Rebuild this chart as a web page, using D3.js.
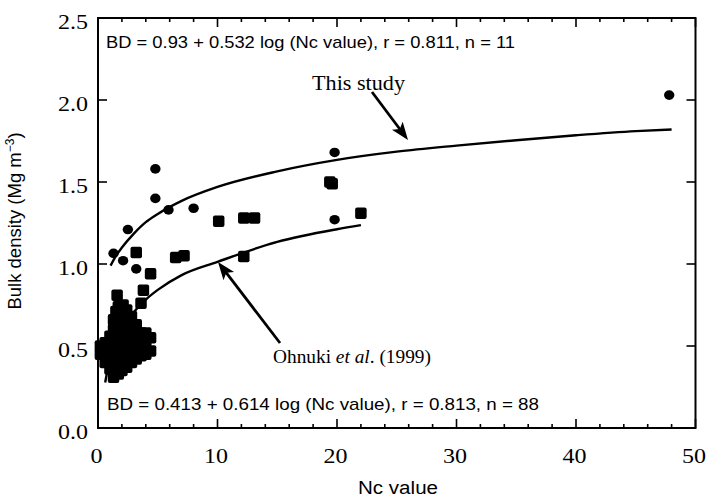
<!DOCTYPE html>
<html>
<head>
<meta charset="utf-8">
<script src="https://cdn.jsdelivr.net/npm/d3@7"></script>
<style>
  body { margin: 0; background: #fff; }
  svg { display: block; }
</style>
</head>
<body>
<svg width="710" height="498"></svg>
<script>
// punti "This study" (cerchi, n = 11)
const circleNc = [1.3, 2.1, 2.5, 3.2, 4.8, 4.8, 5.9, 8.0, 19.8, 19.8, 47.8];
const circleBD = [1.065, 1.02, 1.21, 0.97, 1.58, 1.40, 1.33, 1.34, 1.68, 1.27, 2.03];

// punti Ohnuki et al. (quadrati, n = 88)
const squareNc = [
    3.2, 6.5, 7.2, 4.4, 10.1, 12.2, 13.1, 12.2, 19.4, 19.6, 22.0, 1.6, 2.1, 3.8, 3.6,
    0.2, 0.2,
    0.6, 0.6, 0.6,
    1.0, 1.0, 1.0, 1.0,
    1.3, 1.3, 1.3, 1.3, 1.3, 1.3,
    1.7, 1.7, 1.7, 1.7, 1.7, 1.7, 1.7,
    2.0, 2.0, 2.0, 2.0, 2.0, 2.0,
    2.4, 2.4, 2.4, 2.4, 2.4, 2.4,
    2.8, 2.8, 2.8, 2.8, 2.8,
    3.2, 3.2, 3.2, 3.2,
    3.6, 3.6, 3.6,
    4.0, 4.0, 4.0,
    4.4, 4.4,
    1.5, 1.5, 1.5, 1.5, 1.5, 1.5,
    2.2, 2.2, 2.2, 2.2, 2.2,
    2.6, 2.6, 2.6, 2.6,
    3.0, 3.0, 3.0,
    0.8, 0.8,
    1.2, 1.2
];
const squareBD = [
    1.07, 1.04, 1.05, 0.94, 1.26, 1.28, 1.28, 1.045, 1.50, 1.49, 1.31, 0.81, 0.75, 0.84, 0.76,
    0.45, 0.50,
    0.40, 0.47, 0.52,
    0.36, 0.44, 0.50, 0.56,
    0.31, 0.38, 0.46, 0.53, 0.60, 0.66,
    0.33, 0.40, 0.48, 0.55, 0.62, 0.69, 0.74,
    0.35, 0.42, 0.50, 0.57, 0.64, 0.71,
    0.37, 0.45, 0.52, 0.59, 0.66, 0.72,
    0.40, 0.47, 0.54, 0.61, 0.68,
    0.42, 0.49, 0.56, 0.63,
    0.44, 0.51, 0.58,
    0.45, 0.52, 0.58,
    0.47, 0.55,
    0.35, 0.43, 0.51, 0.58, 0.65, 0.71,
    0.39, 0.47, 0.54, 0.61, 0.68,
    0.43, 0.50, 0.57, 0.63,
    0.45, 0.52, 0.59,
    0.42, 0.48,
    0.41, 0.48
];

// curve di regressione
const studyCurveNc = [1.05, 1.5, 2, 3, 4, 5, 7, 10, 15, 20, 25, 30, 35, 40, 45, 48];
const studyCurveBD = [0.99, 1.05, 1.10, 1.185, 1.255, 1.305, 1.385, 1.47, 1.565, 1.635, 1.685, 1.722, 1.755, 1.785, 1.81, 1.82];
const ohnukiCurveNc = [0.6, 0.8, 1, 1.5, 2, 3, 4, 5, 7, 10, 15, 20, 22];
const ohnukiCurveBD = [0.277, 0.354, 0.413, 0.521, 0.598, 0.706, 0.783, 0.842, 0.932, 1.013, 1.135, 1.212, 1.237];

// tick
const xMajorTicks = [0, 10, 20, 30, 40, 50];
const xMinorTicks = [2, 4, 6, 8, 12, 14, 16, 18, 22, 24, 26, 28, 32, 34, 36, 38, 42, 44, 46, 48];
const yMajorTicks = [0, 0.5, 1.0, 1.5, 2.0, 2.5];

const eqStudy = "BD = 0.93 + 0.532 log (Nc value), r = 0.811, n = 11";
const eqOhnuki = "BD = 0.413 + 0.614 log (Nc value), r = 0.813, n = 88";

// area del grafico
const plotLeft = 98, plotRight = 695.5, plotTop = 18, plotBottom = 428;

const x = d3.scaleLinear().domain([0, 50]).range([plotLeft, plotRight]);
const y = d3.scaleLinear().domain([0, 2.5]).range([plotBottom, plotTop]);

const svg = d3.select("svg");
const serif = "'Liberation Serif', 'Times New Roman', serif";
const sans = "'Liberation Sans', Arial, sans-serif";

// tick interni su tutti i lati
const tickG = svg.append("g").attr("stroke", "#000").attr("stroke-width", 1.6);
xMajorTicks.forEach(t => {
    tickG.append("line").attr("x1", x(t)).attr("x2", x(t)).attr("y1", plotBottom).attr("y2", plotBottom - 9);
    tickG.append("line").attr("x1", x(t)).attr("x2", x(t)).attr("y1", plotTop).attr("y2", plotTop + 9);
});
xMinorTicks.forEach(t => {
    tickG.append("line").attr("x1", x(t)).attr("x2", x(t)).attr("y1", plotBottom).attr("y2", plotBottom - 4);
    tickG.append("line").attr("x1", x(t)).attr("x2", x(t)).attr("y1", plotTop).attr("y2", plotTop + 4);
});
yMajorTicks.forEach(t => {
    tickG.append("line").attr("x1", plotLeft).attr("x2", plotLeft + 9).attr("y1", y(t)).attr("y2", y(t));
    tickG.append("line").attr("x1", plotRight).attr("x2", plotRight - 9).attr("y1", y(t)).attr("y2", y(t));
});

// cornice
svg.append("rect")
    .attr("x", plotLeft).attr("y", plotTop)
    .attr("width", plotRight - plotLeft).attr("height", plotBottom - plotTop)
    .attr("fill", "none").attr("stroke", "#000").attr("stroke-width", 2);

// etichette tick (il font originale e' un po' piu' largo)
const digitW = 12;
svg.append("g").selectAll("text")
    .data(xMajorTicks)
    .join("text")
    .attr("x", d => x(d) - 1.5 - String(d).length * digitW / 2)
    .attr("y", 463)
    .attr("textLength", d => String(d).length * digitW)
    .attr("lengthAdjust", "spacingAndGlyphs")
    .style("font-family", serif)
    .style("font-size", "21px")
    .text(d => d);

svg.append("g").selectAll("text")
    .data(yMajorTicks)
    .join("text")
    .attr("x", 58)
    .attr("y", d => y(d) + 11)
    .attr("textLength", 30)
    .attr("lengthAdjust", "spacingAndGlyphs")
    .style("font-family", serif)
    .style("font-size", "21px")
    .text(d => d.toFixed(1));

// titoli assi
svg.append("text")
    .attr("x", 358)
    .attr("y", 494)
    .attr("textLength", 80)
    .attr("lengthAdjust", "spacingAndGlyphs")
    .style("font-family", sans)
    .style("font-size", "18px")
    .text("Nc value");

const yTitle = svg.append("text")
    .attr("transform", `translate(20.5,221) rotate(-90)`)
    .attr("text-anchor", "middle")
    .style("font-family", sans)
    .style("font-size", "18.5px");
yTitle.append("tspan").text("Bulk density (Mg m");
yTitle.append("tspan").attr("dy", -7).style("font-size", "12px").text("−3");
yTitle.append("tspan").attr("dy", 7).text(")");

// curve
const line = d3.line().x(d => x(d[0])).y(d => y(d[1])).curve(d3.curveMonotoneX);

svg.append("path")
    .datum(studyCurveNc.map((v, i) => [v, studyCurveBD[i]]))
    .attr("d", line)
    .attr("fill", "none").attr("stroke", "#000").attr("stroke-width", 2.4);

svg.append("path")
    .datum(ohnukiCurveNc.map((v, i) => [v, ohnukiCurveBD[i]]))
    .attr("d", line)
    .attr("fill", "none").attr("stroke", "#000").attr("stroke-width", 2.4);

// quadrati
const sq = 11.5;
svg.append("g").selectAll("rect")
    .data(squareNc.map((v, i) => [v, squareBD[i]]))
    .join("rect")
    .attr("x", d => x(d[0]) - sq / 2)
    .attr("y", d => y(d[1]) - sq / 2)
    .attr("width", sq).attr("height", sq)
    .attr("rx", 2)
    .attr("fill", "#000");

// cerchi
svg.append("g").selectAll("ellipse")
    .data(circleNc.map((v, i) => [v, circleBD[i]]))
    .join("ellipse")
    .attr("cx", d => x(d[0]))
    .attr("cy", d => y(d[1]))
    .attr("rx", 5.2).attr("ry", 4.8)
    .attr("fill", "#000");

// equazioni
svg.append("text")
    .attr("x", 106).attr("y", 48)
    .attr("textLength", 409)
    .attr("lengthAdjust", "spacingAndGlyphs")
    .style("font-family", sans).style("font-size", "17px")
    .text(eqStudy);

svg.append("text")
    .attr("x", 107).attr("y", 410)
    .attr("textLength", 432)
    .attr("lengthAdjust", "spacingAndGlyphs")
    .style("font-family", sans).style("font-size", "17px")
    .text(eqOhnuki);

// etichette con freccia
svg.append("text")
    .attr("x", 312).attr("y", 90)
    .attr("textLength", 93)
    .attr("lengthAdjust", "spacingAndGlyphs")
    .style("font-family", serif).style("font-size", "21px")
    .text("This study");

const ohLabel = svg.append("text")
    .attr("x", 273).attr("y", 363)
    .attr("textLength", 158)
    .attr("lengthAdjust", "spacingAndGlyphs")
    .style("font-family", serif).style("font-size", "19px");
ohLabel.append("tspan").text("Ohnuki ");
ohLabel.append("tspan").style("font-style", "italic").text("et al");
ohLabel.append("tspan").text(". (1999)");

function arrow(x1, y1, x2, y2) {
    const a = Math.atan2(y2 - y1, x2 - x1);
    const len = 19, w = 0.36;
    svg.append("line")
        .attr("x1", x1).attr("y1", y1)
        .attr("x2", x2 - Math.cos(a) * 10).attr("y2", y2 - Math.sin(a) * 10)
        .attr("stroke", "#000").attr("stroke-width", 2.8);
    const p = [
        [x2, y2],
        [x2 - len * Math.cos(a - w), y2 - len * Math.sin(a - w)],
        [x2 - len * 0.72 * Math.cos(a), y2 - len * 0.72 * Math.sin(a)],
        [x2 - len * Math.cos(a + w), y2 - len * Math.sin(a + w)]
    ];
    svg.append("polygon").attr("points", p.map(q => q.join(",")).join(" ")).attr("fill", "#000");
}

arrow(372, 92, 408, 140);
arrow(280, 343, 218, 262);
</script>
</body>
</html>
